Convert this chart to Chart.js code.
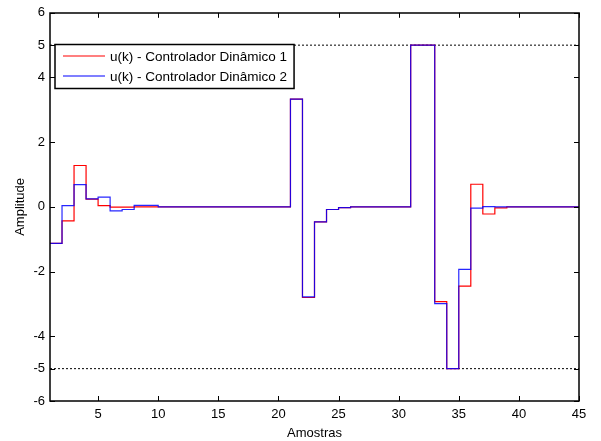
<!DOCTYPE html>
<html>
<head>
<meta charset="utf-8">
<script src="https://cdn.jsdelivr.net/npm/chart.js@4"></script>
<style>
  html, body { margin: 0; padding: 0; background: #fff; }
  #wrap { width: 601px; height: 441px; }
</style>
</head>
<body>
<div id="wrap"><canvas id="chart" width="601" height="441"></canvas></div>
<script>
// samples (k)
const amostras = [1,2,3,4,5,6,7,8,9,10,11,12,13,14,15,16,17,18,19,20,21,22,23,24,25,26,27,28,29,30,31,32,33,34,35,36,37,38,39,40,41,42,43,44,45];

// u(k) - controlador dinamico 1 (red)
const u1 = [-1.13,-0.43,1.28,0.24,0.04,-0.01,-0.01,0,0,0,0,0,0,0,0,0,0,0,0,0,
  3.33,-2.80,-0.46,-0.08,-0.02,0,0,0,0,0,5,5,-2.93,-5,-2.45,0.70,-0.22,-0.03,0,0,0,0,0,0,0];

// u(k) - controlador dinamico 2 (blue)
const u2 = [-1.13,0.04,0.69,0.25,0.30,-0.12,-0.08,0.05,0.05,0,0,0,0,0,0,0,0,0,0,0,
  3.33,-2.78,-0.46,-0.08,-0.02,0,0,0,0,0,5,5,-2.99,-5,-1.93,-0.04,0.01,0,0,0,0,0,0,0,0];

const limites = [5, -5];
const xTicks = [5,10,15,20,25,30,35,40,45];
const yTicks = [-6,-5,-4,-2,0,2,4,5,6];
const labels = ['u(k) - Controlador Dinâmico 1', 'u(k) - Controlador Dinâmico 2'];

const FONT = 'Liberation Sans, Arial, sans-serif';

function toPts(ys) {
  return amostras.map(function(k, i){ return {x: k, y: ys[i]}; });
}

const datasets = [
  { label: labels[0], data: toPts(u1), borderColor: '#ff0000', borderWidth: 1.2, stepped: true, pointRadius: 0, fill: false, order: 2 },
  { label: labels[1], data: toPts(u2), borderColor: 'rgba(0,0,255,0.85)', borderWidth: 1.2, stepped: true, pointRadius: 0, fill: false, order: 1 }
];
limites.forEach(function(v){
  datasets.push({
    label: 'lim', data: [{x: amostras[0], y: v}, {x: amostras[amostras.length-1], y: v}],
    borderColor: '#000', borderWidth: 1, borderDash: [2, 2], pointRadius: 0, fill: false, order: 3
  });
});

// box, inside ticks and the legend like matlab
const matlabBox = {
  id: 'matlabBox',
  afterDraw(chart) {
    const ctx = chart.ctx, a = chart.chartArea;
    const xs = chart.scales.x, ys = chart.scales.y;
    ctx.save();
    ctx.strokeStyle = '#000';
    ctx.lineWidth = 1;
    ctx.beginPath();
    xTicks.forEach(function(v){
      const px = Math.round(xs.getPixelForValue(v)) + 0.5;
      ctx.moveTo(px, a.bottom); ctx.lineTo(px, a.bottom - 5);
      ctx.moveTo(px, a.top); ctx.lineTo(px, a.top + 5);
    });
    yTicks.forEach(function(v){
      const py = Math.round(ys.getPixelForValue(v)) + 0.5;
      ctx.moveTo(a.left, py); ctx.lineTo(a.left + 5, py);
      ctx.moveTo(a.right, py); ctx.lineTo(a.right - 5, py);
    });
    ctx.stroke();
    ctx.lineWidth = 1.5;
    ctx.strokeRect(Math.round(a.left), Math.round(a.top), Math.round(a.right - a.left), Math.round(a.bottom - a.top));

    // legend
    ctx.font = '13.5px ' + FONT;
    let w = 0;
    labels.forEach(function(t){ w = Math.max(w, ctx.measureText(t).width); });
    const bx = 55, by = 44.5, bw = 62 + w, bh = 44;
    ctx.fillStyle = '#fff';
    ctx.fillRect(bx, by, bw, bh);
    ctx.lineWidth = 1.5;
    ctx.strokeRect(bx, by, bw, bh);
    const cols = ['#ff0000', '#0000ff'];
    labels.forEach(function(t, i){
      const yy = by + 11.5 + i * 20;
      ctx.strokeStyle = cols[i];
      ctx.lineWidth = 1.2;
      ctx.beginPath(); ctx.moveTo(bx + 8, yy); ctx.lineTo(bx + 50, yy); ctx.stroke();
      ctx.fillStyle = '#000';
      ctx.textBaseline = 'middle';
      ctx.fillText(t, bx + 55, yy + 1.5);
    });
    ctx.restore();
  }
};

new Chart(document.getElementById('chart'), {
  type: 'line',
  data: { datasets: datasets },
  options: {
    responsive: false,
    animation: false,
    layout: { padding: { top: 10, right: 22, left: 0, bottom: 0 } },
    plugins: { legend: { display: false }, tooltip: { enabled: false } },
    scales: {
      x: {
        type: 'linear', min: 1, max: 45,
        afterBuildTicks: function(s){ s.ticks = xTicks.map(function(v){ return {value: v}; }); },
        afterFit: function(s){ s.height = 40; },
        grid: { display: false, drawTicks: false },
        border: { display: false },
        ticks: { color: '#000', font: { family: FONT, size: 13 }, padding: 6, maxRotation: 0 },
        title: { display: true, text: 'Amostras', color: '#000', font: { family: FONT, size: 13 }, padding: { top: 0, bottom: 0 } }
      },
      y: {
        min: -6, max: 6,
        afterBuildTicks: function(s){ s.ticks = yTicks.map(function(v){ return {value: v}; }); },
        afterFit: function(s){ s.width = 50; },
        grid: { display: false, drawTicks: false },
        border: { display: false },
        ticks: { color: '#000', font: { family: FONT, size: 13 }, padding: 5 },
        title: { display: true, text: 'Amplitude', color: '#000', font: { family: FONT, size: 13 }, padding: { top: 13, bottom: 4 } }
      }
    }
  },
  plugins: [matlabBox]
});
</script>
</body>
</html>
